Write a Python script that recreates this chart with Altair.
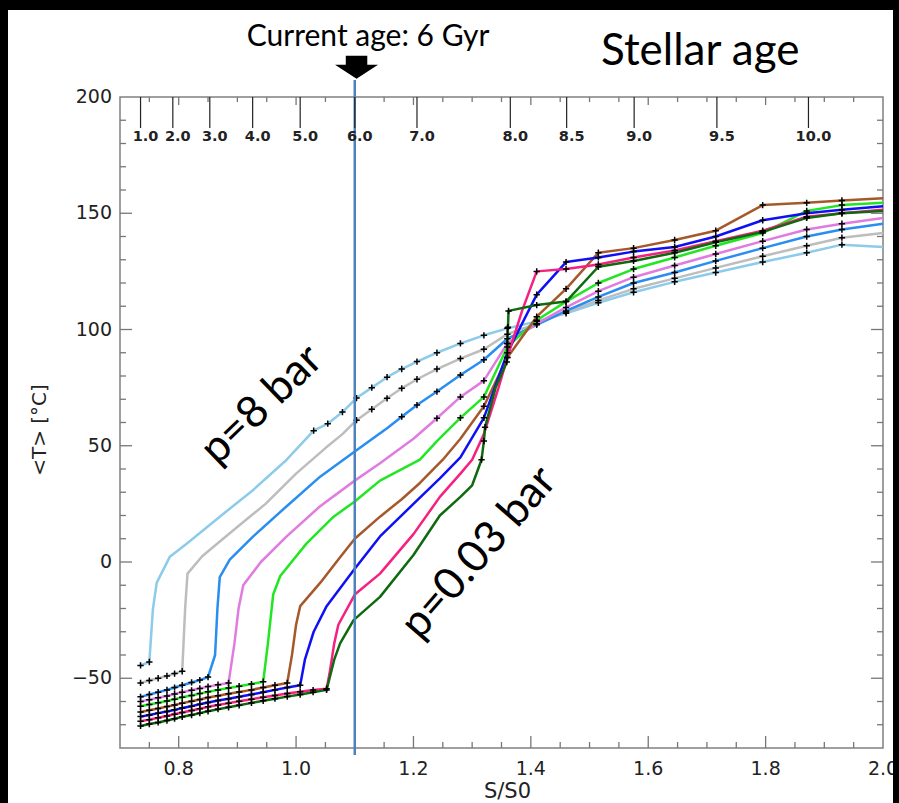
import altair as alt
import pandas as pd

# ---------------- data ----------------
NAMES = ["8 bar", "4 bar", "2 bar", "1 bar", "0.5 bar", "0.25 bar", "0.1 bar", "0.06 bar", "0.03 bar"]
COLORS = ["#8ccbea", "#bdbdbd", "#2a8df0", "#e07be0", "#22e622", "#a5582a", "#1010f5", "#f5207f", "#0f6a0f"]

COLD_X = [0.735, 0.75, 0.765, 0.78, 0.793, 0.806, 0.822, 0.836, 0.85, 0.867, 0.885,
          0.903, 0.924, 0.944, 0.964, 0.985, 1.007, 1.029, 1.052]
WARM_X = [1.36, 1.41, 1.46, 1.515, 1.575, 1.645, 1.715, 1.795, 1.87, 1.93, 2.0]

X1 = [0.735, 0.75, 0.756, 0.7625, 0.785, 0.814, 0.87, 0.927, 0.984, 1.03, 1.054, 1.079, 1.103,
      1.129, 1.155, 1.18, 1.206, 1.24, 1.28, 1.32] + WARM_X
Y1 = [-44.5, -43, -20.5, -9, 2.3, 8, 19.5, 31, 44, 56.5, 59.5, 64.5, 70.5, 75, 79.5, 83, 86.2,
      90, 94, 97.5, 100.5, 103.5, 107, 111.5, 116, 120.5, 124.5, 129, 133, 136.5, 135.5]
M1 = [1, 1] + [0] * 7 + [1] * 11 + [1] * 10 + [0]

X2 = COLD_X[:6] + [0.811, 0.815, 0.84, 0.89, 0.948, 1.0, 1.05, 1.079,
                   1.103, 1.129, 1.155, 1.18, 1.206, 1.24, 1.28, 1.32] + WARM_X
Y2 = [-52, -51, -50, -49, -48, -47, -20, -5, 2.5, 13, 25, 38, 49, 55,
      61, 65.7, 70.4, 74.7, 78.6, 83, 87.5, 91.5,
      98, 102.5, 107.5, 112.5, 117.5, 122, 126.5, 131.5, 136, 139.5, 141.5]
M2 = [1] * 6 + [0] * 8 + [1] * 8 + [1] * 10 + [0]

X3 = COLD_X[:9] + [0.862, 0.866, 0.87, 0.887, 0.927, 0.984, 1.041, 1.1, 1.155,
                   1.18, 1.206, 1.24, 1.28, 1.32] + WARM_X
Y3 = [-58, -57, -56, -55, -54, -53, -51.8, -50.8, -49.5,
      -40, -20, -6.5, 1, 11, 24, 36.7, 47.5, 57.5,
      62.5, 67.5, 73.3, 80.4, 87,
      96, 102, 108, 114, 120, 124.5, 129.5, 135, 140, 143, 145.5]
M3 = [1] * 9 + [0] * 9 + [1] * 5 + [1] * 10 + [0]

X4 = COLD_X[:11] + [0.895, 0.902, 0.91, 0.94, 0.984, 1.041, 1.1, 1.143, 1.2,
                    1.24, 1.28, 1.32] + WARM_X
Y4 = [-60, -59.2, -58.4, -57.6, -56.8, -56, -55.2, -54.4, -53.6, -52.8, -52,
      -35, -20, -10, 0, 11, 24, 35, 42.5, 53,
      61.8, 71, 78,
      94, 102.5, 109.5, 116.5, 122.5, 127.5, 132.5, 138, 143, 145.5, 148]
M4 = [1] * 11 + [0] * 9 + [1] * 3 + [1] * 10 + [0]

X5 = COLD_X[:14] + [0.952, 0.961, 0.973, 1.018, 1.064, 1.1, 1.143, 1.211, 1.24,
                    1.28, 1.32] + WARM_X
Y5 = [-62, -61.3, -60.5, -59.8, -59, -58.2, -57.4, -56.6, -55.8, -55, -54.2, -53.4, -52.5, -51.5,
      -35, -14, -6, 8, 19.5, 26, 35, 44, 52,
      62, 71,
      92.5, 104, 112, 120, 126, 131, 136, 141.5, 151, 153.5, 154.5]
M5 = [1] * 14 + [0] * 9 + [1] * 2 + [1] * 10 + [0]

X6 = COLD_X[:16] + [0.993, 1.0, 1.007, 1.041, 1.075, 1.1, 1.143, 1.18, 1.211, 1.25, 1.28,
                    1.32] + WARM_X
Y6 = [-64.5, -63.8, -63, -62.2, -61.5, -60.7, -59.9, -59.1, -58.3, -57.5, -56.7, -55.9,
      -55, -54, -53, -52,
      -40, -27, -19, -9, 2, 10, 19.5, 27, 34, 44, 53,
      67,
      88, 105.5, 117.5, 133, 135, 138.5, 142.5, 153.5, 154.5, 155.5, 156.5]
M6 = [1] * 16 + [0] * 11 + [1] + [1] * 10 + [0]

X7 = COLD_X[:17] + [1.015, 1.03, 1.052, 1.098, 1.143, 1.2, 1.245, 1.28,
                    1.32] + WARM_X
Y7 = [-66.5, -65.8, -65, -64.3, -63.6, -62.8, -62, -61.2, -60.4, -59.6, -58.8, -58,
      -57, -56, -55, -54, -53,
      -42, -30, -19, -3.5, 11, 25, 36, 45,
      62,
      90, 115, 129, 131, 133.5, 135.5, 140, 147, 150, 151.5, 153]
M7 = [1] * 17 + [0] * 8 + [1] + [1] * 10 + [0]

X8 = COLD_X + [1.057, 1.065, 1.072, 1.1, 1.143, 1.2, 1.245, 1.28, 1.3, 1.32, 1.345,
               1.36, 1.385] + WARM_X[1:]
Y8 = [-68.5, -67.8, -67, -66.2, -65.5, -64.7, -63.9, -63.1, -62.3, -61.5, -60.7, -59.9,
      -59, -58.2, -57.4, -56.6, -55.8, -55.1, -54.5,
      -48, -35, -27, -14, -5, 12, 28, 38, 44, 55, 75,
      88, 108,
      125, 126, 128, 131, 134, 138, 142.5, 148.5, 150, 151.5]
M8 = [1] * 19 + [0] * 11 + [1, 0] + [1] * 9 + [0]

X9 = COLD_X + [1.065, 1.075, 1.098, 1.143, 1.2, 1.245, 1.28, 1.3,
               1.316, 1.32, 1.322, 1.34, 1.359, 1.36, 1.361, 1.362] + WARM_X[1:]
Y9 = [-70.5, -69.7, -69, -68.2, -67.4, -66.6, -65.8, -65, -64.2, -63.3, -62.5, -61.6,
      -60.6, -59.7, -58.8, -57.9, -57, -56, -55,
      -42, -35, -25, -15, 3, 20, 28, 33,
      44, 52, 58, 75, 86, 94, 101, 108,
      110.5, 112, 127, 129.5, 133, 137.5, 142, 148, 150, 151]
M9 = [1] * 19 + [0] * 8 + [1, 1, 1, 0, 1, 1, 1, 1] + [1] * 9 + [0]

SERIES_X = [X1, X2, X3, X4, X5, X6, X7, X8, X9]
SERIES_Y = [Y1, Y2, Y3, Y4, Y5, Y6, Y7, Y8, Y9]
SERIES_M = [M1, M2, M3, M4, M5, M6, M7, M8, M9]

X_LABELS = [0.8, 1.0, 1.2, 1.4, 1.6, 1.8, 2.0]
X_LABEL_TEXT = ["0.8", "1.0", "1.2", "1.4", "1.6", "1.8", "2.0"]
Y_LABELS = [-50, 0, 50, 100, 150, 200]
Y_LABEL_TEXT = ["\u221250", "0", "50", "100", "150", "200"]
X_MAJOR = [0.8, 1.0, 1.2, 1.4, 1.6, 1.8]
X_MINOR = [0.75, 0.85, 0.9, 0.95, 1.05, 1.1, 1.15, 1.25, 1.3, 1.35, 1.45, 1.5, 1.55,
           1.65, 1.7, 1.75, 1.85, 1.9, 1.95]
Y_MAJOR = [-50, 0, 50, 100, 150]
Y_MINOR = [-70, -60, -40, -30, -20, -10, 10, 20, 30, 40, 60, 70, 80, 90, 110, 120, 130,
           140, 160, 170, 180, 190]

AGE_X = [0.735, 0.790, 0.853, 0.926, 1.007, 1.100, 1.206, 1.365, 1.461, 1.576, 1.717, 1.873]
AGE_LABELS = ["1.0", "2.0", "3.0", "4.0", "5.0", "6.0", "7.0", "8.0", "8.5", "9.0", "9.5", "10.0"]

NOW_X = 1.1
X_TITLE = "S/S0"
Y_TITLE = "<T> [°C]"

TITLE_TEXT = ["Current age: 6 Gyr"]
TITLE_X = [1.1227]
TITLE_Y = [226.0]
AGE_TITLE = ["Stellar age"]
AGE_TITLE_X = [1.6886]
AGE_TITLE_Y = [219.4]
ARROW_X = [1.103]
ARROW_Y = [212.8]
P_LABELS = ["p=8 bar", "p=0.03 bar"]
P_X = [0.942, 1.312]
P_Y = [67.5, 3.9]
P_ANGLE = [316, 311]

# ---------------- build ----------------
rows = []
for name, xs, ys, ms in zip(NAMES, SERIES_X, SERIES_Y, SERIES_M):
    assert len(xs) == len(ys) == len(ms), (name, len(xs), len(ys), len(ms))
    for i, (x, y, m) in enumerate(zip(xs, ys, ms)):
        rows.append({"series": name, "i": i, "x": x, "y": y, "m": m})
df = pd.DataFrame(rows)

W, H = 763, 651
xsc = alt.Scale(domain=[0.7, 2.0], nice=False, zero=False)
ysc = alt.Scale(domain=[-80, 200], nice=False, zero=False)
TICK_C = "#777777"
FONT = "DejaVu Sans"
ANN_FONT = "Lato"


def X(field):
    return alt.X(field, scale=xsc, axis=None)


def Y(field):
    return alt.Y(field, scale=ysc, axis=None)


lines = alt.Chart(df).mark_line(strokeWidth=2.5, strokeJoin="round").encode(
    x=X("x:Q"), y=Y("y:Q"),
    color=alt.Color("series:N", scale=alt.Scale(domain=NAMES, range=COLORS), legend=None),
    order="i:Q",
)

PLUS = "M-1,0L1,0M0,-1L0,1"
markers = alt.Chart(df).transform_filter("datum.m == 1").mark_point(
    shape=PLUS, size=40, filled=False, color="black", strokeWidth=1.5, opacity=1
).encode(x=X("x:Q"), y=Y("y:Q"))

now_line = alt.Chart(pd.DataFrame({"x": [NOW_X]})).mark_rule(
    color="#4f81bd", strokeWidth=2.5
).encode(x=X("x:Q"), y=alt.value(H + 7), y2=alt.value(-17))


def xticks(vals, y0, y1):
    return alt.Chart(pd.DataFrame({"v": vals})).mark_rule(color=TICK_C, strokeWidth=1.3).encode(
        x=X("v:Q"), y=alt.value(y0), y2=alt.value(y1))


def yticks(vals, x0, x1):
    return alt.Chart(pd.DataFrame({"v": vals})).mark_rule(color=TICK_C, strokeWidth=1.3).encode(
        y=Y("v:Q"), x=alt.value(x0), x2=alt.value(x1))


tick_layers = [
    xticks(X_MAJOR, H, H - 12), xticks(X_MINOR, H, H - 6),
    xticks(X_MAJOR, 0, 8), xticks(X_MINOR, 0, 5),
    yticks(Y_MAJOR, 0, 12), yticks(Y_MINOR, 0, 6),
    yticks(Y_MAJOR, W, W - 12), yticks(Y_MINOR, W, W - 6),
]

# axis labels drawn as text through the scales
xlab = alt.Chart(pd.DataFrame({"v": X_LABELS, "t": X_LABEL_TEXT})).mark_text(
    font=FONT, fontSize=19, color="#222222", align="center", baseline="top"
).encode(x=X("v:Q"), y=alt.value(H + 12), text="t:N")
ylab = alt.Chart(pd.DataFrame({"v": Y_LABELS, "t": Y_LABEL_TEXT})).mark_text(
    font=FONT, fontSize=19, color="#222222", align="right", baseline="middle"
).encode(y=Y("v:Q"), x=alt.value(-8), text="t:N")
xtitle = alt.Chart(pd.DataFrame({"t": [X_TITLE]})).mark_text(
    font=FONT, fontSize=21, color="#222222", align="center", baseline="middle"
).encode(x=alt.value(W / 2 + 6), y=alt.value(H + 44), text="t:N")
ytitle = alt.Chart(pd.DataFrame({"t": [Y_TITLE]})).mark_text(
    font=FONT, fontSize=20, color="#222222", align="center", baseline="middle", angle=270
).encode(x=alt.value(-80), y=alt.value(333), text="t:N")

age_df = pd.DataFrame({"x": AGE_X, "lab": AGE_LABELS})
age_ticks = alt.Chart(age_df).mark_rule(color="#222222", strokeWidth=1.2).encode(
    x=X("x:Q"), y=alt.value(0), y2=alt.value(31))
age_text = alt.Chart(age_df).mark_text(
    font=FONT, fontSize=14.5, fontWeight="bold", color="#222222", align="center",
    baseline="middle", dx=5
).encode(x=X("x:Q"), y=alt.value(40), text="lab:N")

title1 = alt.Chart(pd.DataFrame({"x": TITLE_X, "y": TITLE_Y, "t": TITLE_TEXT})).mark_text(
    font=ANN_FONT, fontSize=30, color="black", align="center", baseline="middle"
).encode(x=X("x:Q"), y=Y("y:Q"), text="t:N")

title2 = alt.Chart(pd.DataFrame({"x": AGE_TITLE_X, "y": AGE_TITLE_Y, "t": AGE_TITLE})).mark_text(
    font=ANN_FONT, fontSize=44, color="black", align="center", baseline="middle"
).encode(x=X("x:Q"), y=Y("y:Q"), text="t:N")

ARROW = "M-0.5,-0.53L0.5,-0.53L0.5,-0.12L1,-0.12L0,0.53L-1,-0.12L-0.5,-0.12Z"
arrow = alt.Chart(pd.DataFrame({"x": ARROW_X, "y": ARROW_Y})).mark_point(
    shape=ARROW, size=1849, filled=True, color="black", opacity=1, strokeWidth=0
).encode(x=X("x:Q"), y=Y("y:Q"))

p_layers = []
for lab, px, py, ang in zip(P_LABELS, P_X, P_Y, P_ANGLE):
    p_layers.append(
        alt.Chart(pd.DataFrame({"x": [px], "y": [py], "t": [lab]})).mark_text(
            font=ANN_FONT, fontSize=44, color="black", align="center", baseline="middle", angle=ang
        ).encode(x=X("x:Q"), y=Y("y:Q"), text="t:N")
    )

one = pd.DataFrame({"k": [0]})


def band(x0, x1, y0, y1):
    return alt.Chart(one).mark_rect(color="black", opacity=1).encode(
        x=alt.value(x0), x2=alt.value(x1), y=alt.value(y0), y2=alt.value(y1))


bands = [
    band(-120, W + 16, -97, -87),   # top strip
    band(-120, -112, -97, H + 55),  # left strip
    band(W + 10, W + 16, -97, H + 55),  # right strip
]

chart = alt.layer(
    lines, markers, *tick_layers, now_line, xlab, ylab, xtitle, ytitle, age_ticks, age_text,
    title1, title2, arrow, *p_layers, *bands
).properties(
    width=W, height=H,
    padding={"left": 120, "top": 97, "right": 16, "bottom": 55},
    autosize=alt.AutoSizeParams(type="none"),
    background="white",
).configure_view(stroke="#808080", strokeWidth=1.5)

chart.save("out.html", embed_options={"renderer": "svg", "actions": False})
